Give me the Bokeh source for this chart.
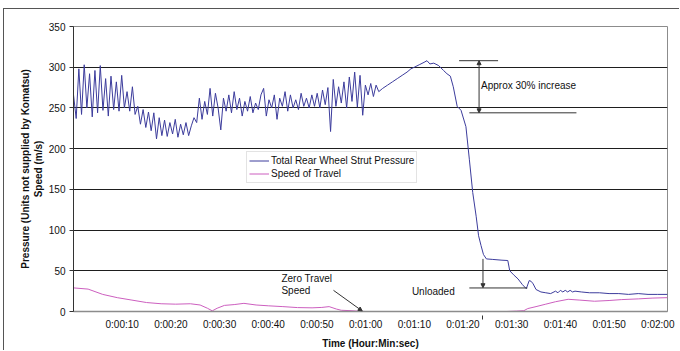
import numpy as np
from bokeh.plotting import figure
from bokeh.models import Range1d, FixedTicker, Label, Arrow, NormalHead, Legend, LegendItem
from bokeh.embed import file_html
from bokeh.resources import INLINE

# ---------------- data ----------------
# Total rear wheel strut pressure, densely sampled part (every 0.55 s from 0 s)
pressure_dense_step = 0.55
pressure_dense = [
    266, 237, 298, 242, 303, 250, 292, 239, 296, 244,
    302, 247, 286, 240, 289, 248, 282, 246, 290, 250,
    270, 246, 276, 242, 252, 230, 248, 226, 245, 222,
    244, 212, 238, 216, 235, 215, 232, 218, 236, 214,
    230, 217, 232, 216, 228, 238, 232, 262, 236, 258,
    242, 274, 240, 268, 250, 223, 262, 246, 266, 244,
    270, 248, 262, 240, 258, 246, 264, 244, 256, 248,
    266, 274, 240, 260, 250, 266, 236, 262, 252, 270,
    246, 266, 250, 260, 248, 268, 252, 262, 250, 266,
    252, 268, 250, 272, 254, 275, 221, 285, 252, 276,
    256, 282, 250, 288, 258, 294, 251, 290, 241, 278,
    266, 280, 264, 278, 270,
]
# remaining part of the pressure trace (seconds, value)
pressure_tail_t = [63.5, 64.5, 65.5, 66.5, 67.5, 68.5, 69.3, 70, 71, 72, 72.6, 73.2, 74, 75,
                   76, 76.7, 77.4, 78, 78.8, 79.6, 80.6, 81.3, 82, 82.7, 83.2, 83.7, 84.2,
                   84.8, 86, 88, 89.2, 89.6, 90.4, 91.3, 92.2, 93, 93.6, 94, 94.4, 95, 96,
                   97, 98, 99, 99.5, 100, 100.5, 101, 101.5, 102, 102.5, 103, 104.3, 106,
                   108, 110, 112, 114, 116, 118, 120, 122]
pressure_tail_v = [274, 278, 282, 286, 290, 294, 298, 300, 303, 306, 308, 304, 305, 302,
                   296, 292, 289, 276, 252, 247, 227, 187, 146, 117, 93, 81, 70,
                   64.6, 64, 63, 62.6, 50, 45, 40, 33, 28, 38, 37, 34, 27, 24,
                   23, 22, 25, 23, 26, 24, 26, 24, 26, 24, 25, 24, 23,
                   23, 22, 22, 21, 22, 21, 21, 21]

# speed of travel (seconds, m/s)
speed_t = [0, 3, 6, 9, 12, 15, 18, 21, 24, 26, 27.5, 28.5, 29.5, 31, 33, 35, 37.5, 40, 43,
           46, 49, 51, 52.5, 54, 55, 57, 59, 60, 70, 80, 89, 91, 92.5, 93.3, 95, 97, 99,
           101.6, 104, 107, 110, 112.5, 116, 119, 122]
speed_v = [29, 27.5, 21, 17, 14, 11, 9.5, 9, 9.5, 8, 4, 0.8, 4, 7.5, 8.5, 10, 8, 7, 6,
           4.8, 4.5, 5, 6, 3, 1.5, 1, 0.2, 0, 0, 0, 0, 0.5, 1, 3.6, 6, 9, 12,
           15, 14, 12.6, 13.5, 14.6, 15.5, 16.5, 17]

x_ticks = [10, 20, 30, 40, 50, 60, 70, 80, 90, 100, 110, 120]
x_tick_labels = ["0:00:10", "0:00:20", "0:00:30", "0:00:40", "0:00:50", "0:01:00",
                 "0:01:10", "0:01:20", "0:01:30", "0:01:40", "0:01:50", "0:02:00"]
y_ticks = [0, 50, 100, 150, 200, 250, 300, 350]

series_names = ["Total Rear Wheel Strut Pressure", "Speed of Travel"]
# --------------------------------------

pressure_t = [round(i * pressure_dense_step, 3) for i in range(len(pressure_dense))] + pressure_tail_t
pressure_v = pressure_dense + pressure_tail_v

FONT = "Liberation Sans"

# figure offset by a small CSS margin so that its top/left border sits like the chart-area border
p = figure(width=676, height=342, output_backend="svg", toolbar_location=None,
           x_range=Range1d(0, 122), y_range=Range1d(0, 350),
           min_border_left=69, min_border_right=13, min_border_top=17, min_border_bottom=38,
           styles={"margin-left": "3px", "margin-top": "8px",
                   "border-top": "1px solid #555555", "border-left": "1px solid #555555"})
p.background_fill_color = "white"
p.border_fill_color = "white"
p.outline_line_color = "#8c8c8c"
p.outline_line_width = 1

p.xgrid.visible = False
p.ygrid.ticker = FixedTicker(ticks=y_ticks)
p.ygrid.grid_line_color = "#1e1e1e"
p.ygrid.grid_line_width = 1

xa = p.xaxis[0]
xa.ticker = FixedTicker(ticks=x_ticks)
xa.major_label_overrides = {t: l for t, l in zip(x_ticks, x_tick_labels)}
xa.major_tick_out = 0
xa.major_tick_in = 0
xa.minor_tick_out = 0
xa.minor_tick_in = 0
xa.axis_line_color = "#8c8c8c"
xa.axis_line_width = 1.5
xa.major_label_text_font = FONT
xa.major_label_text_font_size = "10px"
xa.major_label_text_color = "#111111"
xa.major_label_standoff = 7
xa.axis_label = "Time (Hour:Min:sec)"
xa.axis_label_text_font = FONT
xa.axis_label_text_font_size = "10px"
xa.axis_label_text_font_style = "bold"
xa.axis_label_text_color = "#111111"
xa.axis_label_standoff = 5

ya = p.yaxis[0]
ya.ticker = FixedTicker(ticks=y_ticks)
ya.major_tick_out = 4
ya.major_tick_in = 0
ya.minor_tick_out = 0
ya.minor_tick_in = 0
ya.axis_line_color = "#333333"
ya.major_tick_line_color = "#333333"
ya.major_label_text_font = FONT
ya.major_label_text_font_size = "10px"
ya.major_label_text_color = "#111111"
ya.major_label_standoff = 4
ya.axis_label = "Pressure (Units not supplied by Komatsu)\nSpeed (m/s)"
ya.axis_label_text_font = FONT
ya.axis_label_text_font_size = "10px"
ya.axis_label_text_font_style = "bold"
ya.axis_label_text_color = "#111111"
ya.axis_label_standoff = 2

r1 = p.line(pressure_t, pressure_v, line_color="#3c3c9c", line_width=1)
r2 = p.line(speed_t, speed_v, line_color="#cc5fbf", line_width=1)

legend = Legend(items=[LegendItem(label=series_names[0], renderers=[r1]),
                       LegendItem(label=series_names[1], renderers=[r2])],
                location=(173, 128), orientation="vertical",
                label_text_font=FONT, label_text_font_size="10px", label_text_color="#111111",
                glyph_width=20, glyph_height=13, label_height=13, label_standoff=2,
                spacing=0, padding=2, margin=0,
                border_line_color="#c8c8c8", border_line_width=1,
                background_fill_color="white", background_fill_alpha=1)
p.add_layout(legend, "center")

def lab(x, y, text, **kw):
    opts = dict(text_font=FONT, text_font_size="10px", text_color="#111111",
                text_align="left", text_baseline="middle")
    opts.update(kw)
    p.add_layout(Label(x=x, y=y, text=text, **opts))

# annotations
lab(83.7, 277, "Approx 30% increase")
lab(69.5, 24.8, "Unloaded")
lab(42.7, 40.2, "Zero Travel")
lab(42.7, 26, "Speed")

def head():
    return NormalHead(size=4, fill_color="#333333", line_color="#333333")

def seg(x0, y0, x1, y1, head_end=False, head_start=False, color="#333333", **kw):
    p.add_layout(Arrow(x_start=x0, y_start=y0, x_end=x1, y_end=y1,
                       line_color=color, line_width=1,
                       end=head() if head_end else None,
                       start=head() if head_start else None, **kw))

seg(79.2, 308, 87.2, 308)
seg(81.3, 244, 103.3, 244)
seg(83.3, 244, 83.3, 308, head_end=True, head_start=True)
seg(84.1, 64.6, 84.1, 29.2, head_end=True)
seg(81.3, 28.9, 93.2, 28.9)
seg(53.4, 26, 59.3, 0.6, head_end=True)
# pointer from below the time axis (drawn in canvas pixels, outside the frame)
canvas = dict(start_units="canvas", end_units="canvas", level="overlay")
seg(478, 342, 478, 306, head_end=True, **canvas)

open("out.html", "w").write(file_html(p, INLINE))
